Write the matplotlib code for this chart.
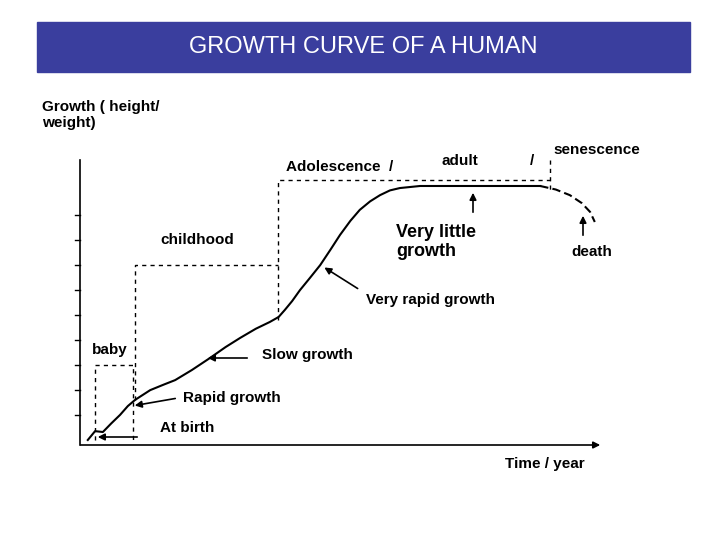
import matplotlib.pyplot as plt
from matplotlib.patches import Rectangle

# growth curve, time and growth in % of the axis range
time = [1.5, 2.9, 4.4, 6.0, 7.7, 9.2, 10.6, 13.5, 16.0, 18.3, 21.5, 25.0, 28.0,
        30.8, 33.8, 36.5, 38.2, 39.4, 40.8, 42.3, 44.2, 46.2, 48.2, 50.0,
        52.0, 53.8, 55.8, 57.7, 59.6, 61.5, 65.4, 75.0, 88.5]
growth = [1.7, 4.7, 4.4, 7.3, 10.2, 13.2, 15.3, 18.6, 20.4, 22.0, 25.4, 29.5,
          33.2, 36.3, 39.4, 41.7, 43.4, 45.8, 48.8, 52.5, 56.6, 61.0, 66.3,
          71.2, 76.0, 79.7, 82.6, 84.7, 86.3, 87.1, 87.8, 87.8, 87.8]
late_time = [88.5, 91.5, 94.2, 96.5, 98.1, 99.0]
late_growth = [87.8, 86.6, 84.7, 82.0, 79.0, 75.6]

W, H = 728, 546
X0, X1, Y0, Y1 = 80, 600, 445, 150


def px(x, y):
    # pixel position in the picture -> data units
    return (x - X0) / (X1 - X0) * 100, (Y0 - y) / (Y0 - Y1) * 100


fig = plt.figure(figsize=(W / 100, H / 100), dpi=100)
bg = fig.add_axes([0, 0, 1, 1])
bg.set_xlim(0, W)
bg.set_ylim(H, 0)
bg.axis('off')
bg.add_patch(Rectangle((37, 22), 653, 50, color='#3a3e9e'))
bg.text(363, 47, 'GROWTH CURVE OF A HUMAN', color='white', fontsize=17,
        ha='center', va='center', family='Liberation Sans')

ax = fig.add_axes([X0 / W, (H - Y0) / H, (X1 - X0) / W, (Y0 - Y1) / H])
ax.set_xlim(0, 100)
ax.set_ylim(0, 100)
ax.axis('off')
ax.patch.set_alpha(0)

# axes
ax.annotate('', xy=px(603, 445), xytext=px(78, 445), annotation_clip=False,
            arrowprops=dict(arrowstyle='-|>', color='black', lw=1.2))
ax.plot(*zip(px(80, 445), px(80, 160)), color='black', lw=1.2, clip_on=False)
for yy in range(215, 440, 25):
    ax.plot(*zip(px(75, yy), px(80, yy)), color='black', lw=1, clip_on=False)

ax.plot(time, growth, color='black', lw=1.5, clip_on=False)
ax.plot(late_time, late_growth, color='black', lw=1.5, ls=(0, (4, 2)),
        clip_on=False)

ds = dict(color='black', lw=1, ls=(0, (3, 3)), clip_on=False)
for seg in [[(95, 440), (95, 365), (133, 365), (133, 440)],
            [(135, 400), (135, 265), (278, 265)],
            [(278, 320), (278, 180), (550, 180)],
            [(550, 160), (550, 190)]]:
    xs, ys = zip(*[px(*p) for p in seg])
    ax.plot(xs, ys, **ds)

fs = dict(fontsize=11, fontweight='bold', family='Liberation Sans', clip_on=False)
labels = [('Growth ( height/\nweight)', 42, 115), ('baby', 92, 350),
          ('childhood', 160, 240), ('Adolescence  /', 286, 167),
          ('adult', 442, 161), ('/', 530, 161),
          ('senescence', 553, 150), ('death', 571, 252),
          ('Rapid growth', 183, 398), ('Slow growth', 262, 355),
          ('Very rapid growth', 366, 300), ('At birth', 160, 428),
          ('Time / year', 505, 464)]
for t, x, y in labels:
    ax.text(*px(x, y), t, ha='left', va='center', **fs)
ax.text(*px(396, 242), 'Very little\ngrowth', ha='left', va='center',
        fontsize=13, fontweight='bold', family='Liberation Sans')

arr = dict(arrowstyle='-|>', color='black', lw=1.2)
for tip, tail in [((95, 437), (140, 437)), ((132, 406), (178, 398)),
                  ((205, 358), (250, 358)), ((322, 266), (360, 290)),
                  ((473, 190), (473, 215)), ((583, 213), (583, 238))]:
    ax.annotate('', xy=px(*tip), xytext=px(*tail), arrowprops=arr,
                annotation_clip=False)

fig.savefig('out.png', dpi=100)
